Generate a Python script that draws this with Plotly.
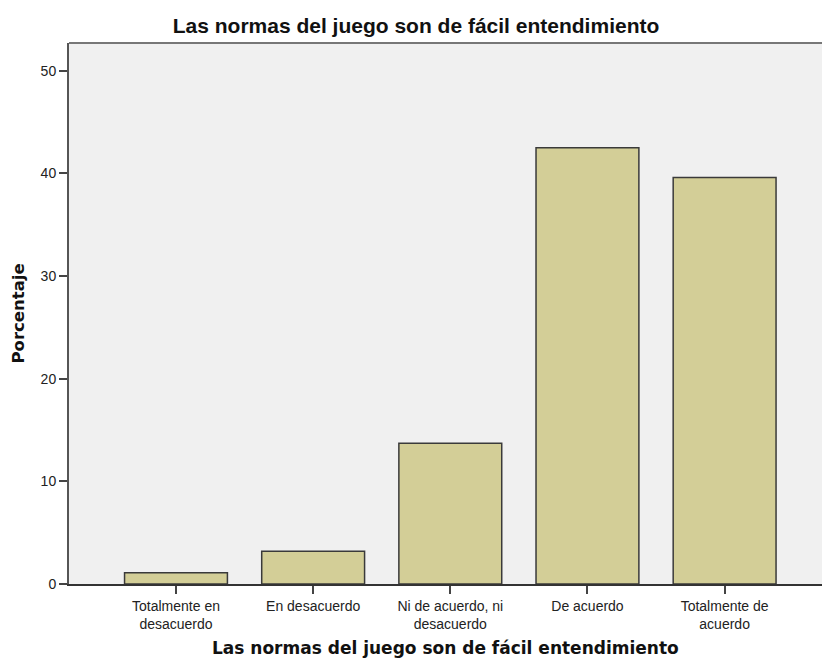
import plotly.graph_objects as go

categories = [
    "Totalmente en<br>desacuerdo",
    "En desacuerdo",
    "Ni de acuerdo, ni<br>desacuerdo",
    "De acuerdo",
    "Totalmente de<br>acuerdo",
]
porcentaje = [1.1, 3.2, 13.7, 42.5, 39.6]
y_ticks = [0, 10, 20, 30, 40, 50]

title_text = "Las normas del juego son de fácil entendimiento"

fig = go.Figure()
fig.add_trace(go.Bar(
    x=list(range(len(categories))),
    y=porcentaje,
    width=0.75,
    marker=dict(color="#D3CE97", line=dict(color="#3a3a3a", width=1.5)),
    hoverinfo="y",
))

fig.update_layout(
    width=822,
    height=658,
    margin=dict(l=69, r=0, t=43, b=74),
    paper_bgcolor="white",
    plot_bgcolor="#F0F0F0",
    showlegend=False,
    font=dict(family="Liberation Sans, Arial, sans-serif", size=14, color="#222222"),
    title=dict(
        text="<b>" + title_text + "</b>",
        x=416 / 822, xref="container", xanchor="center",
        y=1 - 26 / 658, yref="container", yanchor="middle",
        font=dict(family="Liberation Sans, Arial, sans-serif", size=21, color="#111111"),
    ),
    xaxis=dict(
        range=[-0.78, 4.71],
        tickmode="array",
        tickvals=list(range(len(categories))),
        ticktext=categories,
        ticks="outside",
        ticklen=8,
        tickwidth=2,
        tickcolor="#444444",
        showgrid=False,
        zeroline=False,
        showline=True,
        linecolor="#333333",
        linewidth=2,
        tickfont=dict(size=14, color="#222222"),
    ),
    yaxis=dict(
        range=[0, 52.7],
        tickmode="array",
        tickvals=y_ticks,
        ticks="outside",
        ticklen=8,
        tickwidth=2,
        tickcolor="#444444",
        showgrid=False,
        zeroline=False,
        showline=True,
        linecolor="#555555",
        linewidth=2,
        tickfont=dict(size=14, color="#222222"),
    ),
    annotations=[
        dict(
            text="<b>" + title_text + "</b>", xref="paper", yref="paper", x=0.5, y=0,
            xanchor="center", yanchor="middle", yshift=-64, showarrow=False,
            font=dict(family="DejaVu Sans, Verdana, sans-serif", size=17, color="#111111"),
        ),
        dict(
            text="<b>Porcentaje</b>", xref="paper", yref="paper", x=0, y=0.5,
            xanchor="center", yanchor="middle", xshift=-51, textangle=-90,
            showarrow=False,
            font=dict(family="DejaVu Sans, Verdana, sans-serif", size=16.5, color="#111111"),
        ),
    ],
    shapes=[
        dict(type="line", xref="paper", yref="paper", x0=0, x1=1, y0=1, y1=1,
             line=dict(color="#777777", width=2)),
    ],
)

# drop the default body margin so the 822x658 figure fills the window exactly
fig.write_html(
    "out.html",
    config={"displayModeBar": False},
    post_script="document.body.style.margin='0';document.body.style.overflow='hidden';",
)
